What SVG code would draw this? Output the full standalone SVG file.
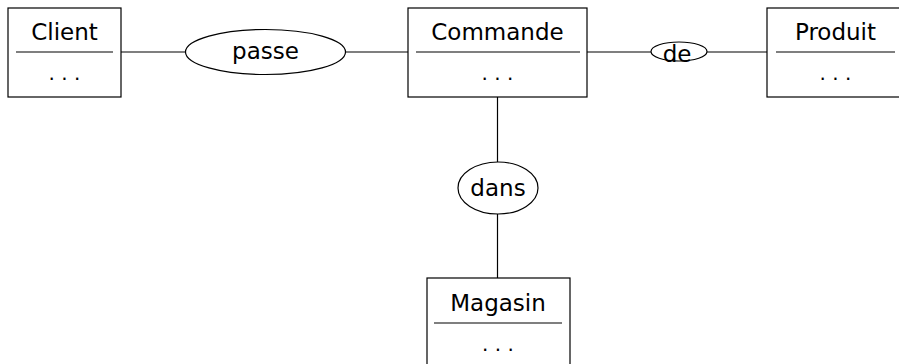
<svg xmlns="http://www.w3.org/2000/svg" width="899" height="364" viewBox="0 0 899 364">
<style>
  .box { fill: #ffffff; stroke: #000000; stroke-width: 1.2; }
  .rel { fill: #ffffff; stroke: #000000; stroke-width: 1.2; }
  .div { stroke: #000000; stroke-width: 1.2; }
  .conn { stroke: #000000; stroke-width: 1.2; fill: none; }
  .lbl { font-family: "DejaVu Sans", sans-serif; font-size: 23px; fill: #000000; text-anchor: middle; }
  .dots { font-family: "DejaVu Sans", sans-serif; font-size: 20px; fill: #000000; text-anchor: middle; }
</style>
<rect width="899" height="364" fill="#ffffff"/>
<g id="connectors">
  <line class="conn" x1="121" y1="52" x2="186" y2="52"/>
  <line class="conn" x1="345" y1="52" x2="408" y2="52"/>
  <line class="conn" x1="587" y1="52" x2="651" y2="52"/>
  <line class="conn" x1="707" y1="52" x2="767" y2="52"/>
  <line class="conn" x1="497.5" y1="97" x2="497.5" y2="162"/>
  <line class="conn" x1="497.5" y1="214" x2="497.5" y2="278"/>
</g>
<g id="client">
  <rect class="box" x="8" y="8" width="113" height="89"/>
  <text class="lbl" x="64.5" y="40">Client</text>
  <line class="div" x1="16" y1="52" x2="113" y2="52"/>
  <text class="dots" x="64.5" y="80">. . .</text>
</g>
<g id="passe">
  <ellipse class="rel" cx="265.5" cy="52" rx="80" ry="22.5"/>
  <text class="lbl" x="265.5" y="59">passe</text>
</g>
<g id="commande">
  <rect class="box" x="408" y="8" width="179" height="89"/>
  <text class="lbl" x="497.5" y="40">Commande</text>
  <line class="div" x1="416" y1="52" x2="580" y2="52"/>
  <text class="dots" x="497.5" y="80">. . .</text>
</g>
<g id="de">
  <ellipse class="rel" cx="679" cy="51.5" rx="28" ry="9.5"/>
  <text class="lbl" x="677" y="62">de</text>
</g>
<g id="produit">
  <rect class="box" x="767" y="8" width="136" height="89"/>
  <text class="lbl" x="835.5" y="40">Produit</text>
  <line class="div" x1="776" y1="52" x2="895" y2="52"/>
  <text class="dots" x="835.5" y="80">. . .</text>
</g>
<g id="dans">
  <ellipse class="rel" cx="498" cy="188" rx="40" ry="26"/>
  <text class="lbl" x="498" y="196">dans</text>
</g>
<g id="magasin">
  <rect class="box" x="427" y="278" width="143" height="96"/>
  <text class="lbl" x="498" y="311">Magasin</text>
  <line class="div" x1="434" y1="323" x2="562" y2="323"/>
  <text class="dots" x="498" y="351">. . .</text>
</g>
</svg>
